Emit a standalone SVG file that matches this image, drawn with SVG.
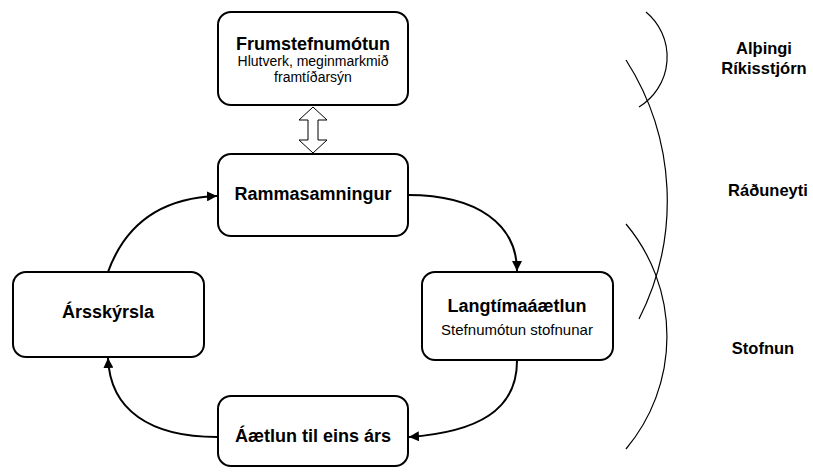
<svg xmlns="http://www.w3.org/2000/svg" width="813" height="473" viewBox="0 0 813 473">
<style>
.box{fill:#fff;stroke:#000;stroke-width:2}
.t{font-family:"Liberation Sans",Arial,sans-serif;font-weight:bold;font-size:18px;text-anchor:middle;fill:#000}
.s{font-family:"Liberation Sans",Arial,sans-serif;font-size:14px;text-anchor:middle;fill:#000}
.r{font-family:"Liberation Sans",Arial,sans-serif;font-weight:bold;font-size:16.5px;text-anchor:middle;fill:#000}
.c{fill:none;stroke:#000;stroke-width:2}
.arc{fill:none;stroke:#000;stroke-width:1.2}
</style>
<defs>
<marker id="ah" viewBox="0 0 10 10" refX="10" refY="5" markerWidth="10" markerHeight="10" markerUnits="userSpaceOnUse" orient="auto">
<path d="M0,0 L10,5 L0,10 z" fill="#000"/>
</marker>
</defs>
<rect width="813" height="473" fill="#fff"/>
<g id="connectors">
<path class="c" d="M408,195 C478,195 517,225 517,271" marker-end="url(#ah)"/>
<path class="c" d="M517,361 C517,410 478,432 409,437" marker-end="url(#ah)"/>
<path class="c" d="M217,437 C150,437 110,410 108,358" marker-end="url(#ah)"/>
<path class="c" d="M108,272 C125,225 160,198 217,196" marker-end="url(#ah)"/>
<polygon points="313,107 327,120 318,120 318,140 327,140 313,153 299,140 308,140 308,120 299,120" fill="#fff" stroke="#000" stroke-width="1"/>
</g>
<g id="n1">
<rect class="box" x="218" y="12" width="190" height="93" rx="13"/>
<text class="t" x="313" y="50">Frumstefnumótun</text>
<text class="s" x="313" y="66">Hlutverk, meginmarkmið</text>
<text class="s" x="313" y="82">framtíðarsýn</text>
</g>
<g id="n2">
<rect class="box" x="218" y="154" width="190" height="82" rx="13"/>
<text class="t" x="313" y="200">Rammasamningur</text>
</g>
<g id="n3">
<rect class="box" x="422" y="272" width="191" height="88" rx="13"/>
<text class="t" x="517" y="312">Langtímaáætlun</text>
<text class="s" x="517" y="335" style="font-size:15px">Stefnumótun stofnunar</text>
</g>
<g id="n4">
<rect class="box" x="218" y="396" width="190" height="70" rx="13"/>
<text class="t" x="313" y="442">Áætlun til eins árs</text>
</g>
<g id="n5">
<rect class="box" x="13" y="272" width="191" height="85" rx="13"/>
<text class="t" x="108" y="318">Ársskýrsla</text>
</g>
<g id="levels">
<path class="arc" d="M646,12 A58.5,58.5 0 0 1 639,107"/>
<path class="arc" d="M626,60 A261,261 0 0 1 639,319"/>
<path class="arc" d="M626,224 A175,175 0 0 1 626,449"/>
<text class="r" x="764" y="54">Alþingi</text>
<text class="r" x="764" y="74">Ríkisstjórn</text>
<text class="r" x="768" y="196">Ráðuneyti</text>
<text class="r" x="763" y="354">Stofnun</text>
</g>
</svg>
